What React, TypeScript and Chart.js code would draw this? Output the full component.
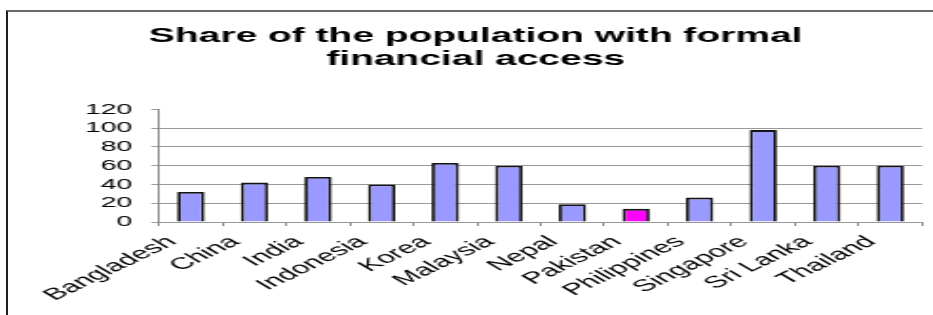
import { useEffect, useRef } from 'react';
import { Chart, registerables } from 'chart.js';

Chart.register(...registerables);

const categories = [
  'Bangladesh', 'China', 'India', 'Indonesia', 'Korea', 'Malaysia',
  'Nepal', 'Pakistan', 'Philippines', 'Singapore', 'Sri Lanka', 'Thailand',
];
const shareValues = [32, 42, 48, 40, 63, 60, 19, 14, 26, 98, 60, 60];
const highlightedCategory = 'Pakistan';
const yTickValues = [0, 20, 40, 60, 80, 100, 120];
const titleLines = ['Share of the population with formal', 'financial access'];

const W = 491;
const H = 315;
const STRETCH = 933 / W;
const FAMILY = "'Liberation Sans', Arial, sans-serif";

export default function App() {
  const ref = useRef<HTMLCanvasElement>(null);

  useEffect(() => {
    const chart = new Chart(ref.current as HTMLCanvasElement, {
      type: 'bar',
      data: {
        labels: categories,
        datasets: [
          {
            data: shareValues,
            backgroundColor: categories.map((c) => (c === highlightedCategory ? '#FF00FF' : '#9999FF')),
            borderColor: '#141414',
            borderWidth: 1.8,
            barPercentage: 0.43,
            categoryPercentage: 1,
          },
        ],
      },
      options: {
        responsive: false,
        animation: false,
        devicePixelRatio: 1,
        layout: { padding: { left: 15.3, right: 5.7, top: 0, bottom: 0 } },
        plugins: {
          legend: { display: false },
          tooltip: { enabled: false },
          title: {
            display: true,
            text: titleLines,
            color: '#000',
            font: { family: FAMILY, size: 20.5, weight: 'bold', lineHeight: 1.14 },
            padding: { top: 24.5, bottom: 38.2 },
          },
        },
        scales: {
          x: {
            grid: {
              display: true,
              offset: true,
              drawOnChartArea: false,
              drawTicks: true,
              tickLength: 4,
              color: '#888',
            },
            border: { display: true, color: '#999', width: 1 },
            ticks: {
              autoSkip: false,
              minRotation: 42,
              maxRotation: 42,
              padding: 6,
              labelOffset: -10,
              color: '#000',
              font: { family: FAMILY, size: 16.5 },
            },
            afterFit: (s: any) => {
              s.height = 93;
            },
          },
          y: {
            min: 0,
            max: 120,
            ticks: {
              stepSize: 20,
              autoSkip: false,
              padding: 10,
              color: '#000',
              font: { family: FAMILY, size: 15 },
            },
            afterBuildTicks: (s: any) => {
              s.ticks = yTickValues.map((v) => ({ value: v }));
            },
            grid: {
              color: (ctx: any) => (ctx.tick && ctx.tick.value === 120 ? 'rgba(0,0,0,0)' : '#999'),
              tickColor: '#999',
              tickLength: 4,
              drawTicks: true,
            },
            border: { display: true, color: '#888' },
            afterFit: (s: any) => {
              s.width = 68.4;
            },
          },
        },
      },
    } as any);
    return () => chart.destroy();
  }, []);

  return (
    <>
      <div
        style={{
          position: 'fixed',
          left: 0,
          top: 0,
          width: W,
          height: H,
          transform: `scaleX(${STRETCH})`,
          transformOrigin: '0 0',
        }}
      >
        <canvas ref={ref} width={W} height={H} style={{ display: 'block' }} />
      </div>
      <div
        style={{
          position: 'fixed',
          left: 6,
          top: 10,
          width: 1000,
          height: 400,
          borderLeft: '2px solid #1e1e1e',
          borderTop: '2px solid #6a6a6a',
          pointerEvents: 'none',
        }}
      />
    </>
  );
}
